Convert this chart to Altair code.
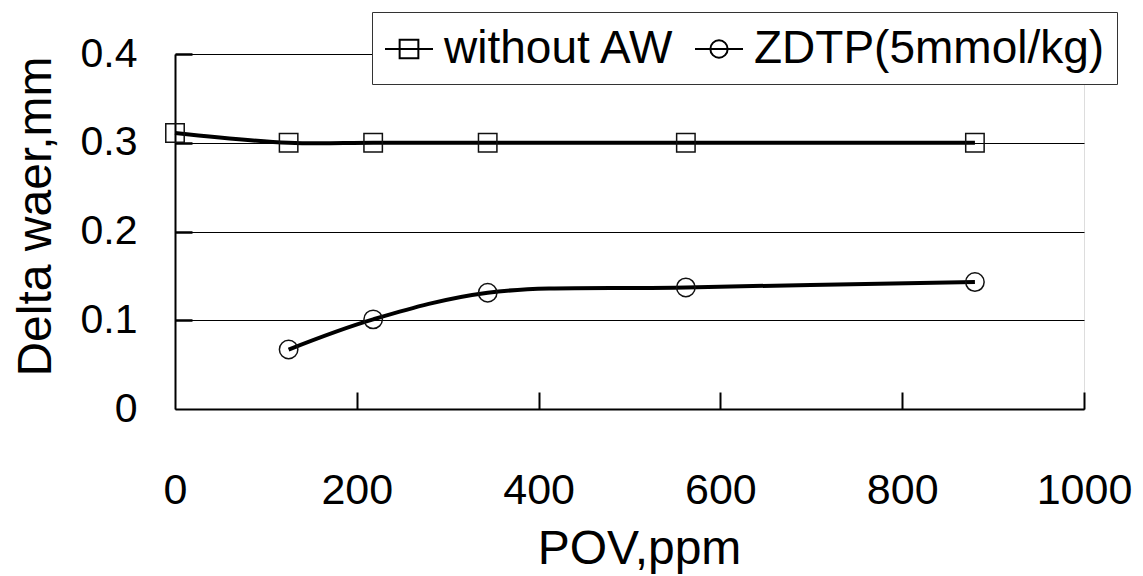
import altair as alt
import pandas as pd

# ---- data ----
series_names = ["without AW", "ZDTP(5mmol/kg)"]
pov_without = [0, 125, 218, 344, 562, 880]
wear_without = [0.311, 0.300, 0.300, 0.300, 0.300, 0.300]
pov_zdtp = [125, 218, 344, 562, 880]
wear_zdtp = [0.067, 0.101, 0.131, 0.137, 0.143]
x_ticks = [0, 200, 400, 600, 800, 1000]
y_ticks = [0, 0.1, 0.2, 0.3, 0.4]

rows = [{"series": series_names[0], "pov": a, "wear": b} for a, b in zip(pov_without, wear_without)]
rows += [{"series": series_names[1], "pov": a, "wear": b} for a, b in zip(pov_zdtp, wear_zdtp)]
df = pd.DataFrame(rows)

FONT = "Liberation Sans"
xscale = alt.Scale(domain=[0, 1000], nice=False, zero=True)
yscale = alt.Scale(domain=[0, 0.4], nice=False, zero=True)

base = alt.Chart(df)

lines = base.mark_line(interpolate="catmull-rom", strokeWidth=4, color="black").encode(
    x=alt.X("pov:Q", scale=xscale, axis=alt.Axis(
        orient="bottom", values=x_ticks, format="d", ticks=False, tickSize=0,
        labelFont=FONT, labelFontSize=43, labelColor="black", labelPadding=60,
        labelFlush=False, labelOverlap=False,
        domainColor="black", domainWidth=2, grid=False,
        title="POV,ppm", titleFont=FONT, titleFontSize=48, titleFontWeight="normal",
        titleColor="black", titleX=464, titleY=154, titleBaseline="alphabetic",
        titleAlign="center")),
    y=alt.Y("wear:Q", scale=yscale, axis=alt.Axis(
        orient="left", values=y_ticks, format="~g", ticks=False, tickSize=0,
        labelFont=FONT, labelFontSize=41, labelColor="black", labelPadding=38,
        labelFlush=False, labelOverlap=False,
        domainColor="black", domainWidth=2,
        grid=True, gridColor="black", gridWidth=1, gridOpacity=1,
        title="Delta waer,mm", titleFont=FONT, titleFontSize=48, titleFontWeight="normal",
        titleColor="black", titleAngle=270, titleX=-125, titleY=162,
        titleBaseline="alphabetic", titleAlign="center")),
    detail="series:N",
)

points = base.mark_point(filled=False, size=340, strokeWidth=1.5, color="#111", opacity=1).encode(
    x=alt.X("pov:Q", scale=xscale, axis=None),
    y=alt.Y("wear:Q", scale=yscale, axis=None),
    shape=alt.Shape("series:N", scale=alt.Scale(domain=series_names, range=["square", "circle"]),
                    legend=None),
)

# legend-only layer: symbols are a line crossed by the marker
legend_paths = ["M-1,0H1M-0.39,-0.39H0.39V0.39H-0.39Z",
                "M-1,0H1M0.36,0A0.36,0.36 0 1,1 -0.36,0A0.36,0.36 0 1,1 0.36,0"]
legend_layer = base.transform_filter("false").mark_point(
    filled=False, size=2304, strokeWidth=2, color="black", opacity=1).encode(
    x=alt.X("pov:Q", scale=xscale, axis=None),
    y=alt.Y("wear:Q", scale=yscale, axis=None),
    shape=alt.Shape("series:N", scale=alt.Scale(domain=series_names, range=legend_paths),
                    legend=alt.Legend(
                        title=None, orient="none", legendX=197, legendY=-42,
                        direction="horizontal", fillColor="white", strokeColor="#333",
                        padding=12, labelFont=FONT, labelFontSize=46, labelColor="black",
                        labelLimit=1000,
                        symbolSize=2304, symbolStrokeWidth=2, symbolStrokeColor="black",
                        symbolFillColor="transparent", symbolOpacity=1,
                        labelOffset=10, columnPadding=16)),
)

tick_axes = base.mark_point(opacity=0).encode(
    x=alt.X("pov:Q", scale=xscale, axis=alt.Axis(
        orient="top", offset=-355, values=x_ticks[1:], labels=False, domain=False,
        grid=False, ticks=True, tickSize=17, tickWidth=2, tickColor="black", title=None)),
    y=alt.Y("wear:Q", scale=yscale, axis=alt.Axis(
        orient="right", offset=-909, values=y_ticks[1:], labels=False, domain=False,
        grid=False, ticks=True, tickSize=17, tickWidth=2.5, tickColor="black", title=None)),
)

chart = alt.layer(lines, points, legend_layer, tick_axes).resolve_axis(
    x="independent", y="independent"
).resolve_scale(shape="independent").properties(
    width=909, height=355, autosize="none",
    padding={"left": 175, "top": 54, "right": 59, "bottom": 167},
).configure_view(stroke=None).configure(background="white")

chart.save("out.html", embed_options={"renderer": "svg", "actions": False})
